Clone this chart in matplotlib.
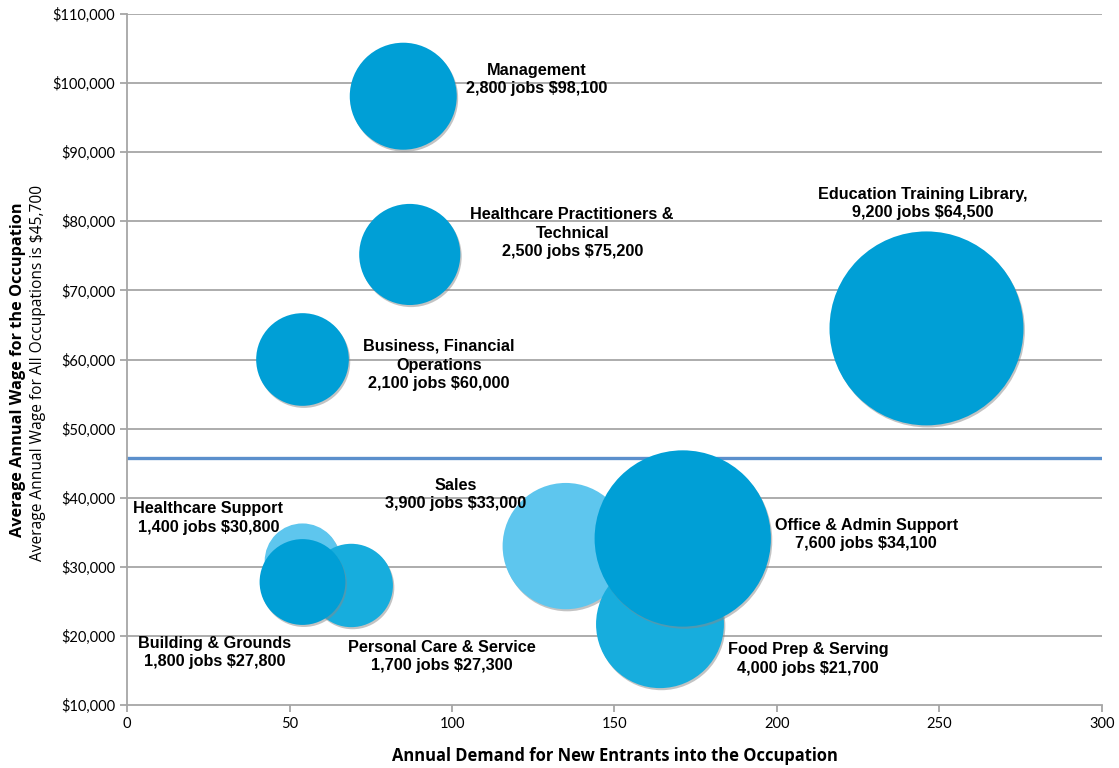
import matplotlib
matplotlib.use("Agg")
import matplotlib.pyplot as plt
import matplotlib.patheffects as pe
from matplotlib.ticker import FuncFormatter

# occupation data (drawing order matters: later ones sit on top)
names = ["Management", "Healthcare Practitioners &\nTechnical", "Business, Financial\nOperations",
         "Education Training Library,", "Sales", "Food Prep & Serving", "Office & Admin Support",
         "Healthcare Support", "Personal Care & Service", "Building & Grounds"]
demand = [85, 87, 54, 246, 135, 164, 171, 54, 69, 54]
wage = [98100, 75200, 60000, 64500, 33000, 21700, 34100, 30800, 27300, 27800]
jobs = [2800, 2500, 2100, 9200, 3900, 4000, 7600, 1400, 1700, 1800]
colors = ["#009fd6", "#009fd6", "#009fd6", "#009fd6", "#5ec6ee", "#17addd", "#009fd6",
          "#5ec6ee", "#17addd", "#009fd6"]

# label anchors (centre of text block)
label_x = [126, 137, 96, 245, 101, 209.5, 227.5, 25, 97, 27]
label_y = [100500, 78300, 59200, 82600, 40450, 16650, 34650, 37050, 17000, 17600]

avg_wage = 45700

fig = plt.figure(figsize=(11.19, 7.68), dpi=100)
ax = fig.add_axes([0.1135, 0.082, 0.8713, 0.8998])

grey = "#a6a6a6"
for yv in range(20000, 110001, 10000):
    ax.axhline(yv, color=grey, lw=1.3, zorder=0)

ax.axhline(avg_wage, color="#5b8fcc", lw=2.4, zorder=1)

for i in range(len(names)):
    ax.scatter(demand[i], wage[i], s=jobs[i] * 2.12, color=colors[i], zorder=2 + i,
               linewidths=0,
               path_effects=[pe.SimplePatchShadow(offset=(1, -1.5), shadow_rgbFace="#888888", alpha=0.5),
                             pe.Normal()])

for i in range(len(names)):
    txt = names[i] + "\n" + "{:,} jobs ${:,}".format(jobs[i], wage[i])
    ax.text(label_x[i], label_y[i], txt, ha="center", va="center", fontsize=11.7,
            fontweight="bold", family="Liberation Sans", linespacing=1.3, zorder=20)

ax.set_xlim(0, 300)
ax.set_ylim(10000, 110000)
ax.set_xticks(range(0, 301, 50))
ax.set_yticks(range(10000, 110001, 10000))
ax.yaxis.set_major_formatter(FuncFormatter(lambda v, p: "${:,.0f}".format(v)))

for s in ["top", "right"]:
    ax.spines[s].set_visible(False)
for s in ["left", "bottom"]:
    ax.spines[s].set_color(grey)
    ax.spines[s].set_linewidth(1.3)
ax.tick_params(axis="both", colors=grey, length=5, width=1.3, labelcolor="black", labelsize=10.5)
for lab in ax.get_xticklabels() + ax.get_yticklabels():
    lab.set_family("Lato")

ax.set_xlabel("Annual Demand for New Entrants into the Occupation", fontsize=11.9,
              fontweight="bold", family="Open Sans", labelpad=12)

fig.text(0.016, 0.518, "Average Annual Wage for the Occupation", rotation=90, ha="center",
         va="center", fontsize=11.7, fontweight="bold", family="Open Sans")
fig.text(0.034, 0.515, "Average Annual Wage for All Occupations is $45,700", rotation=90,
         ha="center", va="center", fontsize=11.2, family="Open Sans")

fig.savefig("out.png", dpi=100)
